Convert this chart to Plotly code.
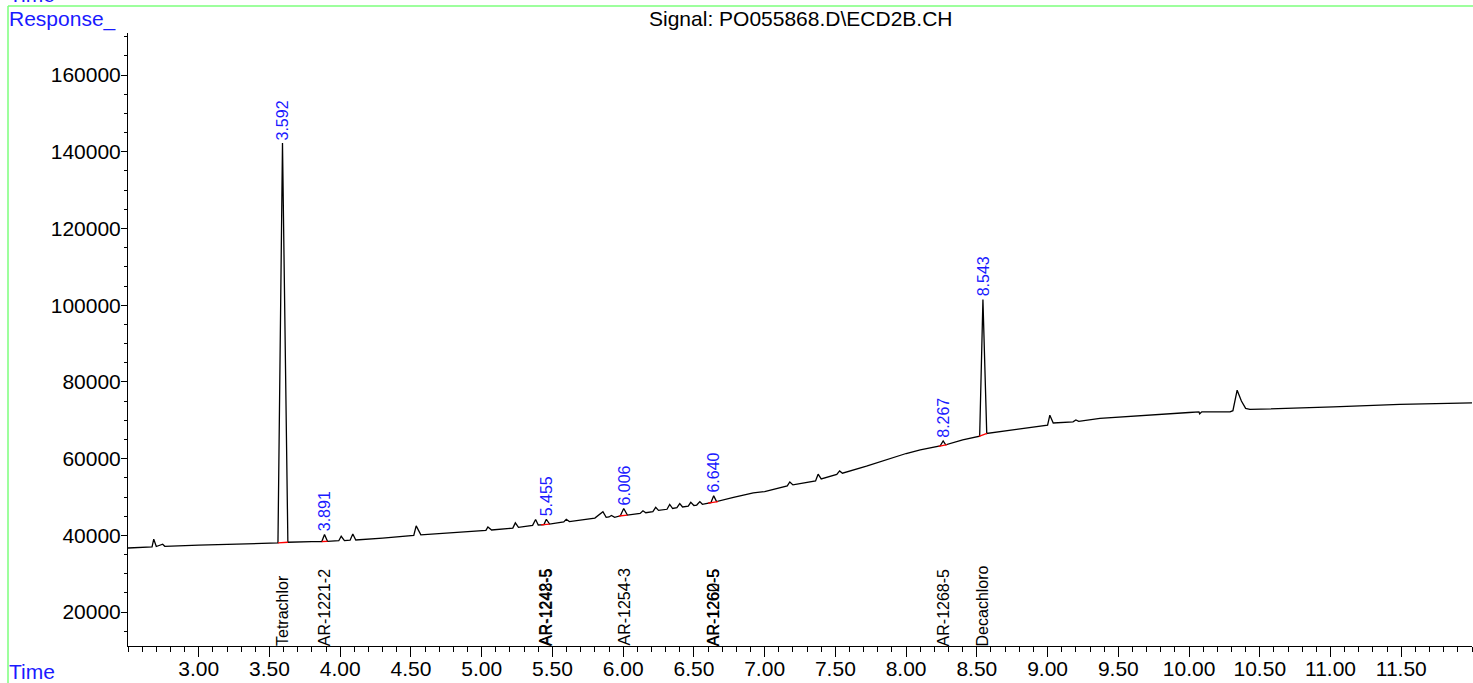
import plotly.graph_objects as go

# ---- chromatogram trace (time in min, response) ----
rt_min = [
    2.50, 2.60, 2.67, 2.682, 2.70, 2.745, 2.76, 3.00, 3.30, 3.50,
    3.56, 3.592, 3.63, 3.80, 3.87, 3.889, 3.91, 3.99, 4.007, 4.03,
    4.07, 4.089, 4.11, 4.30, 4.50, 4.52, 4.537, 4.57, 4.80, 5.00,
    5.03, 5.044, 5.07, 5.22, 5.238, 5.26, 5.36, 5.381, 5.40, 5.44,
    5.457, 5.48, 5.58, 5.598, 5.62, 5.80, 5.857, 5.88, 5.90, 5.917,
    5.94, 5.98, 6.004, 6.03, 6.12, 6.14, 6.16, 6.21, 6.23, 6.25,
    6.31, 6.329, 6.35, 6.38, 6.40, 6.42, 6.46, 6.478, 6.50, 6.52,
    6.542, 6.56, 6.62, 6.64, 6.66, 6.78, 6.92, 7.00, 7.16, 7.178,
    7.20, 7.36, 7.378, 7.40, 7.51, 7.53, 7.55, 7.72, 8.00, 8.10,
    8.24, 8.262, 8.28, 8.40, 8.52, 8.543, 8.57, 8.78, 9.00, 9.016,
    9.04, 9.18, 9.20, 9.22, 9.32, 9.37, 10.00, 10.07, 10.075, 10.09,
    10.29, 10.31, 10.34, 10.37, 10.40, 10.43, 11.02, 11.49, 12.00,
]
response = [
    36700, 36900, 37000, 39000, 37100, 37700, 37150, 37450, 37700, 37900,
    38030, 142270, 38200, 38350, 38400, 40240, 38450, 38600, 39770, 38650,
    38750, 40370, 38800, 39300, 39900, 40000, 42460, 40150, 40700, 41200,
    41300, 42200, 41400, 41900, 43250, 42100, 42600, 44130, 42700, 42800,
    44200, 42950, 43500, 44200, 43600, 44500, 46170, 44700, 44800, 45170,
    44700, 45100, 47000, 45300, 45700, 46400, 45900, 46200, 47300, 46500,
    46800, 48080, 47000, 47200, 48270, 47400, 47600, 48600, 47800, 47900,
    48800, 48100, 48500, 50300, 48800, 49900, 51100, 51400, 52900, 53930,
    53150, 54200, 55940, 54700, 55900, 56800, 56200, 58030, 61340, 62300,
    63300, 64625, 63600, 64900, 65850, 101500, 66555, 67600, 68700, 71330,
    69300, 69600, 70100, 69700, 70300, 70470, 72030, 72200, 71700, 72200,
    72190, 72500, 77850, 75000, 73100, 72815, 73490, 74120, 74540,
]

# ---- integrated peaks: retention times, apex heights, baseline segments ----
peak_rt = [3.592, 3.891, 5.455, 6.006, 6.640, 8.267, 8.543]
peak_apex = [142270, 40240, 44200, 47000, 50300, 64625, 101500]
base_t0 = [3.56, 3.87, 5.42, 5.97, 6.60, 8.23, 8.515]
base_t1 = [3.63, 3.91, 5.48, 6.03, 6.67, 8.29, 8.572]
base_y0 = [38030, 38400, 42750, 45050, 48400, 63200, 65800]
base_y1 = [38200, 38450, 42950, 45300, 48800, 63650, 66560]

# ---- compound names printed along the time axis ----
cmp_names = ["Tetrachlor", "AR-1221-2", "AR-1242-5", "AR-1248-5", "AR-1254-3",
             "AR-1260-5", "AR-1262-5", "AR-1268-5", "Decachloro"]
cmp_times = [3.592, 3.891, 5.452, 5.457, 6.006, 6.638, 6.642, 8.267, 8.543]

# ---- axis ticks ----
x_ticks = [3.0, 3.5, 4.0, 4.5, 5.0, 5.5, 6.0, 6.5, 7.0, 7.5, 8.0, 8.5,
           9.0, 9.5, 10.0, 10.5, 11.0, 11.5]
x_tick_labels = ["3.00", "3.50", "4.00", "4.50", "5.00", "5.50", "6.00",
                 "6.50", "7.00", "7.50", "8.00", "8.50", "9.00", "9.50",
                 "10.00", "10.50", "11.00", "11.50"]
y_ticks = [20000, 40000, 60000, 80000, 100000, 120000, 140000, 160000]
y_tick_labels = ["20000", "40000", "60000", "80000", "100000", "120000",
                 "140000", "160000"]

title_text = "Signal: PO055868.D\\ECD2B.CH"
x_range = [2.5, 12.0]
y_range = [11160, 170950]

FONT = "Liberation Sans, Arial, sans-serif"
BLUE = "#1a1aff"

fig = go.Figure()
fig.add_trace(go.Scatter(x=rt_min, y=response, mode="lines",
                         line=dict(color="black", width=1.3),
                         hoverinfo="skip", showlegend=False))

seg_x, seg_y = [], []
for a, b, c, d in zip(base_t0, base_t1, base_y0, base_y1):
    seg_x += [a, b, None]
    seg_y += [c, d, None]
fig.add_trace(go.Scatter(x=seg_x, y=seg_y, mode="lines",
                         line=dict(color="red", width=1.3),
                         hoverinfo="skip", showlegend=False))

annotations = []
for t, h in zip(peak_rt, peak_apex):
    annotations.append(dict(x=t, y=h, xref="x", yref="y", text=f"{t:.3f}",
                            textangle=-90, showarrow=False, xanchor="center",
                            yanchor="bottom", yshift=2, borderpad=0,
                            font=dict(family=FONT, size=16, color=BLUE)))
for name, t in zip(cmp_names, cmp_times):
    annotations.append(dict(x=t, y=0, xref="x", yref="paper", text=name,
                            textangle=-90, showarrow=False, xanchor="center",
                            yanchor="bottom", borderpad=0, yshift=-1,
                            font=dict(family=FONT, size=16, color="black")))

W, H = 1473, 683
L, R, T, B = 128, 1, 33, 37
pw, ph = W - L - R, H - T - B


def px(xp):
    return (xp - L) / pw


def py(yp):
    return (H - B - yp) / ph


annotations += [
    dict(x=px(7), y=py(19), xref="paper", yref="paper", text="Response_",
         showarrow=False, xanchor="left", yanchor="middle",
         font=dict(family=FONT, size=21, color=BLUE)),
    dict(x=px(7), y=py(671), xref="paper", yref="paper", text="Time",
         showarrow=False, xanchor="left", yanchor="middle",
         font=dict(family=FONT, size=21, color=BLUE)),
    dict(x=px(7), y=py(-6), xref="paper", yref="paper", text="Time",
         showarrow=False, xanchor="left", yanchor="middle",
         font=dict(family=FONT, size=21, color=BLUE)),
    dict(x=px(801), y=py(19), xref="paper", yref="paper", text=title_text,
         showarrow=False, xanchor="center", yanchor="middle",
         font=dict(family=FONT, size=21, color="black")),
]

shapes = [
    dict(type="line", xref="paper", yref="paper", x0=px(8), x1=px(8),
         y0=py(6), y1=py(H + 5), line=dict(color="#7dff7d", width=1.5)),
    dict(type="line", xref="paper", yref="paper", x0=px(8), x1=px(W + 5),
         y0=py(6), y1=py(6), line=dict(color="#7dff7d", width=1.5)),
]

fig.update_layout(
    width=W, height=H, margin=dict(l=L, r=R, t=T, b=B, pad=0),
    paper_bgcolor="white", plot_bgcolor="white",
    font=dict(family=FONT, size=21, color="black"),
    annotations=annotations, shapes=shapes, showlegend=False,
    xaxis=dict(range=x_range, showgrid=False, zeroline=False,
               showline=True, linecolor="black", linewidth=1,
               ticks="outside", ticklen=10, tickcolor="black",
               tickmode="array", tickvals=x_ticks, ticktext=x_tick_labels,
               ticklabelstandoff=-6,
               tickfont=dict(family=FONT, size=21, color="black"),
               minor=dict(ticks="outside", dtick=0.1, tick0=3.0, ticklen=5,
                          tickcolor="black", showgrid=False)),
    yaxis=dict(range=y_range, showgrid=False, zeroline=False,
               showline=True, linecolor="black", linewidth=1,
               ticks="outside", ticklen=6, tickcolor="black",
               tickmode="array", tickvals=y_ticks, ticktext=y_tick_labels,
               ticklabelstandoff=-4,
               tickfont=dict(family=FONT, size=21, color="black"),
               minor=dict(ticks="outside", dtick=5000, tick0=0, ticklen=3,
                          tickcolor="black", showgrid=False)),
)

fig.write_html("out.html", config={"displayModeBar": False},
               post_script="document.body.style.margin='0';"
                           "document.body.style.overflow='hidden';")
